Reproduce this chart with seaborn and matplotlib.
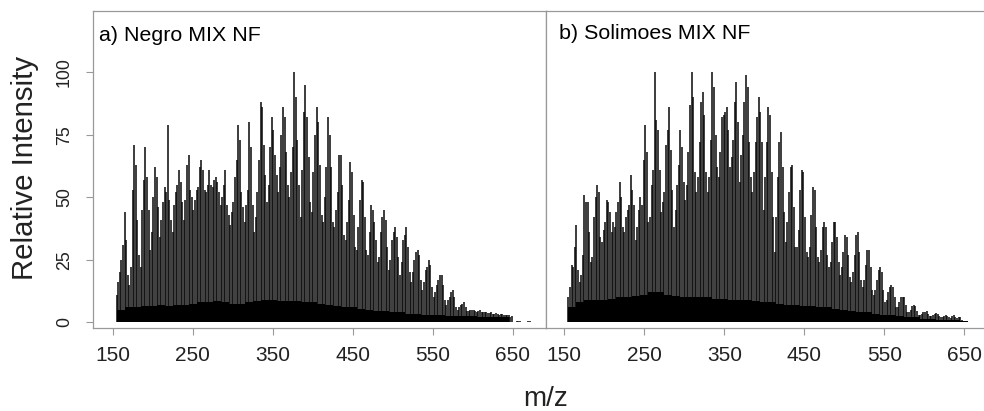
import numpy as np
import pandas as pd
import matplotlib
matplotlib.use("Agg")
import matplotlib.pyplot as plt
import seaborn as sns

# ---------------- data ----------------
MZ_START = 155  # first odd nominal mass; one value per odd nominal mass (step 2)

negro_int = [
    11, 16, 20, 25, 31, 44, 33,        # 155
    19, 15, 22, 53, 71, 63, 41,        # 169
    27, 22, 45, 57, 70, 58, 45,        # 183
    29, 36, 50, 62, 58, 46, 34,        # 197
    41, 48, 54, 52, 79, 49, 41,        # 211
    36, 47, 52, 55, 61, 56, 48,        # 225
    41, 49, 63, 67, 53, 50, 45,        # 239
    49, 53, 54, 62, 65, 61, 53,        # 253
    52, 55, 61, 55, 54, 57, 58,        # 267
    56, 52, 47, 50, 55, 61, 47,        # 281
    43, 39, 44, 48, 58, 65, 79,        # 295
    73, 52, 46, 40, 47, 53, 80,        # 309
    70, 47, 36, 42, 52, 65, 88,        # 323
    86, 71, 59, 48, 55, 70, 82,        # 337
    77, 67, 59, 52, 62, 75, 86,        # 351
    82, 68, 55, 50, 60, 70, 100,       # 365
    90, 73, 55, 42, 61, 84, 95,        # 379
    82, 66, 48, 44, 60, 75, 86,        # 393
    80, 63, 43, 40, 50, 62, 82,        # 407
    75, 62, 40, 38, 45, 52, 67,        # 421
    67, 55, 35, 33, 40, 49, 64,        # 435
    60, 43, 30, 29, 38, 49, 57,        # 449
    56, 42, 29, 27, 36, 47, 45,        # 463
    40, 33, 24, 26, 36, 42, 45,        # 477
    41, 30, 21, 25, 33, 36, 38,        # 491
    34, 26, 19, 24, 33, 35, 38,        # 505
    30, 20, 16, 20, 25, 28, 29,        # 519
    27, 17, 13, 16, 21, 22, 25,        # 533
    23, 14, 10, 12, 15, 17, 19,        # 547
    19, 15, 9, 7, 9, 10, 12,           # 561
    13, 10, 6, 5, 6, 7, 7.5,           # 575
    8.2, 6, 4.5, 4.5, 5, 5, 4.8,       # 589
    4.5, 4, 4.5, 4.8, 4.2, 4, 4.3,     # 603
    4, 3.6, 3.8, 4, 3.5, 3.4, 3.6,     # 617
    3.2, 3, 3.3, 3.5, 3, 2.8, 3,       # 631
    2.8, 2.2, 2.6, 0, 0, 0.4, 0.4,     # 645
    0.4, 0, 0, 0, 0, 0.4, 0.4,         # 659
]

solimoes_int = [
    10, 14, 23, 22, 30, 39, 21,        # 155
    16, 19, 27, 51, 48, 48, 36,        # 169
    24, 26, 42, 50, 55, 52, 34,        # 183
    32, 37, 40, 49, 48, 44, 36,        # 197
    40, 38, 44, 48, 56, 50, 38,        # 211
    36, 42, 45, 47, 59, 53, 47,        # 225
    33, 38, 45, 50, 47, 65, 79,        # 239
    68, 40, 42, 55, 61, 100, 81,       # 253
    77, 61, 44, 48, 52, 71, 77,        # 267
    86, 69, 53, 38, 45, 55, 63,        # 281
    77, 70, 56, 49, 55, 68, 87,        # 295
    100, 90, 60, 52, 58, 72, 88,       # 309
    92, 83, 60, 52, 58, 73, 100,       # 323
    94, 75, 62, 58, 68, 82, 83,        # 337
    84, 86, 77, 62, 66, 73, 88,        # 351
    96, 80, 56, 67, 75, 88, 99,        # 365
    94, 72, 58, 52, 60, 72, 82,        # 379
    90, 84, 72, 45, 58, 72, 86,        # 393
    83, 60, 42, 28, 42, 58, 72,        # 407
    76, 62, 44, 32, 40, 52, 62,        # 421
    63, 46, 30, 30, 37, 53, 61,        # 435
    60, 42, 28, 26, 30, 43, 54,        # 449
    53, 38, 26, 24, 29, 38, 40,        # 463
    38, 27, 22, 24, 32, 40, 40,        # 477
    34, 24, 19, 22, 28, 35, 34,        # 491
    27, 18, 16, 20, 27, 35, 36,        # 505
    28, 17, 14, 17, 23, 29, 29,        # 519
    22, 13, 11, 13, 17, 21, 22,        # 533
    20, 13, 8, 9, 12, 14, 15,          # 547
    14, 10, 6, 6, 8, 10, 10,           # 561
    10, 7, 4, 4, 5, 6.5, 7,            # 575
    6.5, 4.5, 3, 3, 3.5, 4, 4.2,       # 589
    4.6, 3.5, 2.5, 2.5, 3, 3.5, 3.8,   # 603
    3.5, 2.5, 2, 2.2, 2.6, 2.8, 2.6,   # 617
    2, 1.8, 2.4, 2.8, 2.2, 1.6, 2.2,   # 631
    2.0, 1.0, 0, 0, 0.3, 0.3, 0,       # 645
    0.3, 0.3, 0, 0.3, 0.3, 0, 0.3,     # 659
]

# dense low-level peaks (the black floor), one value per 10-Da bin
floor_mz = [160, 170, 180, 190, 200, 210, 220, 230, 240, 250,
            260, 270, 280, 290, 300, 310, 320, 330, 340, 350,
            360, 370, 380, 390, 400, 410, 420, 430, 440, 450,
            460, 470, 480, 490, 500, 510, 520, 530, 540, 550,
            560, 570, 580, 590, 600, 610, 620, 630, 640, 650]
negro_floor = [5, 6, 6, 6.5, 6.5, 7, 6.5, 7, 7, 7.5,
               8, 8, 8.5, 8, 7.5, 7.5, 8, 8.5, 9, 9,
               8.5, 8.5, 8.5, 8, 8, 7.5, 7, 6.5, 6, 6,
               5.5, 5, 4.5, 4.5, 4, 4, 3.5, 3.5, 3, 3,
               2.8, 2.6, 2.5, 2.5, 2.5, 2.2, 2.2, 2, 2, 0]
solimoes_floor = [6, 8, 9, 9, 9, 9.5, 10, 10, 10.5, 11,
                  12, 12, 11, 10.5, 10, 10, 10, 10, 9.5, 9.5,
                  9, 9, 9, 8.5, 8, 8, 7.5, 7, 7, 6.5,
                  6.5, 6, 6, 5.5, 5, 4.5, 4, 4, 3.5, 3,
                  3, 2.5, 2, 2, 1.5, 1.5, 1, 1, 1, 0.5]

x_ticks = [150, 250, 350, 450, 550, 650]
y_ticks = [0, 25, 50, 75, 100]
titles = ["a) Negro MIX NF", "b) Solimoes MIX NF"]

# ---------------- style ----------------
sns.set_theme(style="white")
plt.rcParams['font.family'] = ['Liberation Sans', 'DejaVu Sans']
TXT = '#222222'
EDGE = '#999999'

W, H = 984, 411
fig = plt.figure(figsize=(W / 100, H / 100), dpi=100)

def px_axes(x0, y_top, w, h):
    return fig.add_axes([x0 / W, (H - y_top - h) / H, w / W, h / H])

axL = px_axes(93, 11, 453, 317)
axR = px_axes(546, 11, 453, 317)

panels = [
    (axL, negro_int, negro_floor, (125.4, 691.6), titles[0], (0.014, 0.906)),
    (axR, solimoes_int, solimoes_floor, (127.1, 693.4), titles[1], (0.0287, 0.912)),
]

for ax, ints, floor, xlim, title, tpos in panels:
    mz = MZ_START + 2 * np.arange(len(ints))
    ax.vlines(mz, 0, ints, color='#080808', linewidth=1.1, zorder=2)
    fdf = pd.DataFrame({'mz': floor_mz, 'level': floor})
    sns.histplot(data=fdf, x='mz', weights='level', binwidth=10,
                 binrange=(floor_mz[0] - 5, floor_mz[-1] + 5), element='step',
                 fill=True, color='black', alpha=1, linewidth=0, ax=ax)
    for coll in ax.collections[1:]:
        coll.set_zorder(3)
    ax.set_xlabel('')
    ax.set_ylabel('')
    ax.set_xlim(*xlim)
    ax.set_ylim(-2.3, 124.6)
    ax.set_xticks(x_ticks)
    ax.set_xticklabels([str(t) for t in x_ticks])
    ax.tick_params(axis='x', direction='out', length=5, width=0.8, color=EDGE,
                   labelsize=15, labelcolor=TXT, pad=8.0, bottom=True)
    for sp in ax.spines.values():
        sp.set_visible(True)
        sp.set_color(EDGE)
        sp.set_linewidth(0.9)
    ax.text(tpos[0], tpos[1], title, transform=ax.transAxes, fontsize=15.4,
            color='black', ha='left', va='baseline')
    ax.set_facecolor('white')
    ax.grid(False)

axL.set_yticks(y_ticks)
axL.set_yticklabels([str(t) for t in y_ticks], rotation=90, va='center')
axL.tick_params(axis='y', direction='out', length=5, width=0.8, color=EDGE,
                labelsize=12.8, labelcolor=TXT, pad=9.5, left=True)
axR.set_yticks([])

fig.text(25 / W, 1 - 168 / H, 'Relative Intensity', rotation=90,
         ha='center', va='center', fontsize=21.2, color=TXT)
fig.text(546 / W, 1 - 399 / H, 'm/z', ha='center', va='center',
         fontsize=20, color=TXT)

fig.savefig('out.png', dpi=100, facecolor='white')
